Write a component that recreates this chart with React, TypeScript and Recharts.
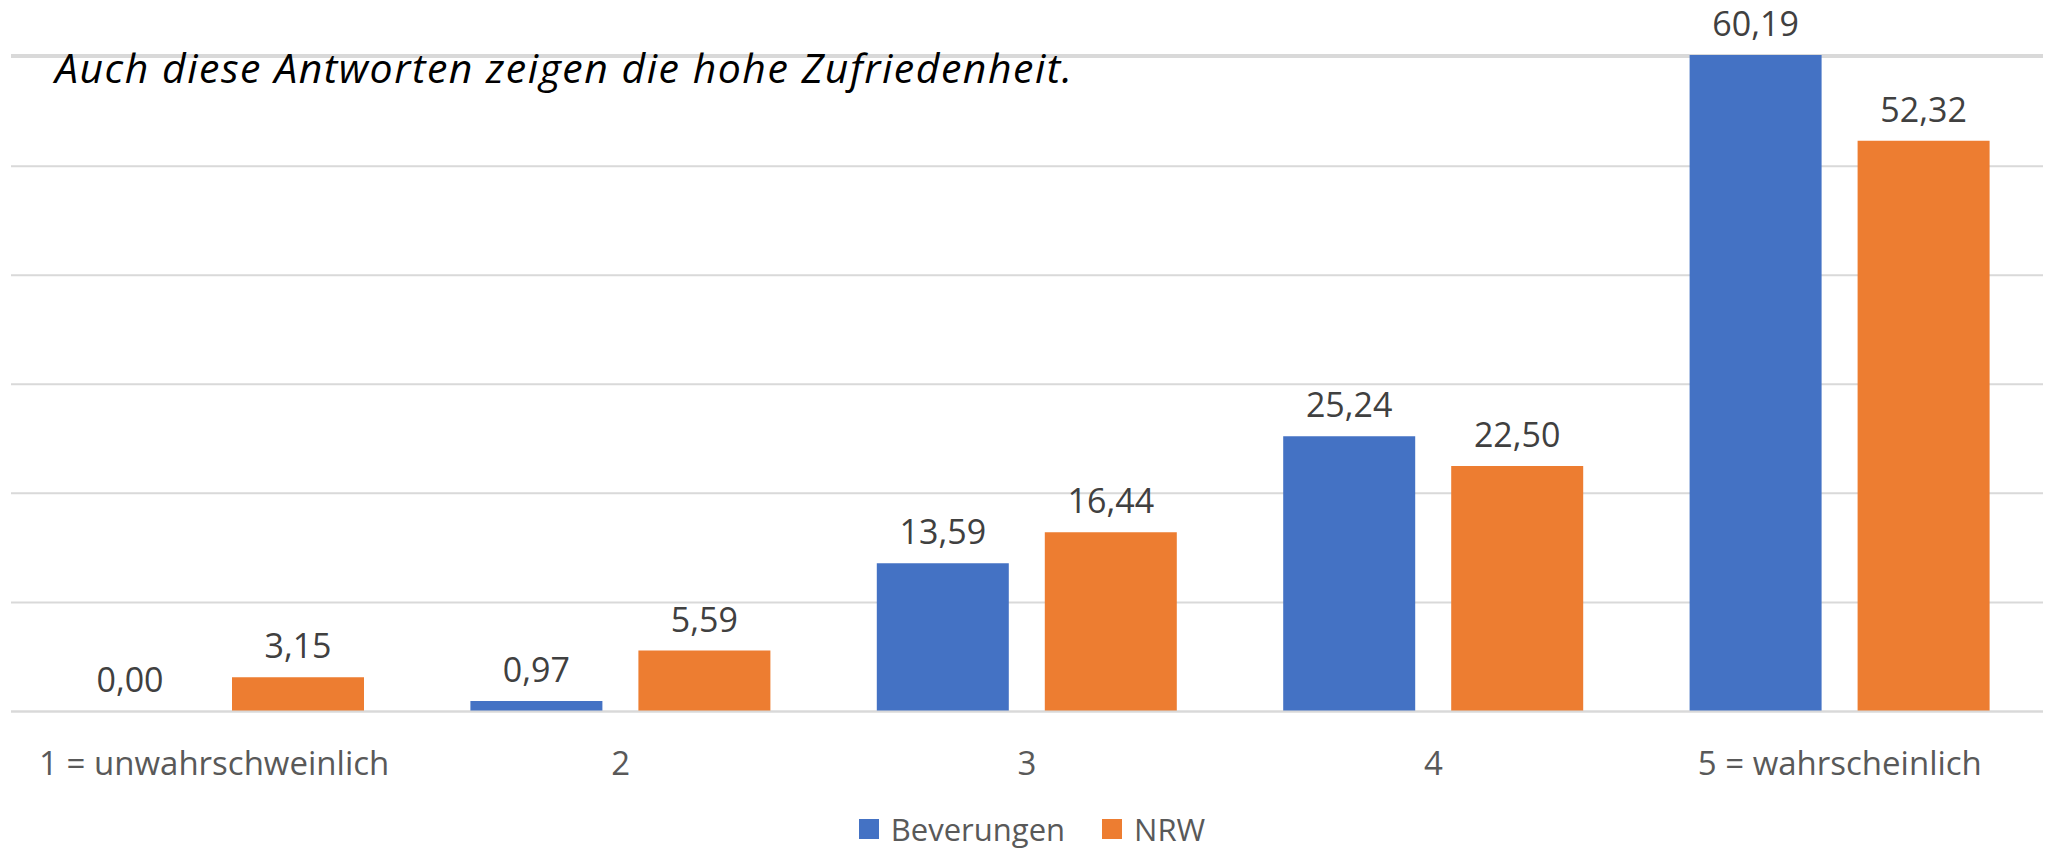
import { BarChart, Bar, XAxis, YAxis, CartesianGrid, Legend, LabelList } from 'recharts';

const categories = ['1 = unwahrschweinlich', '2', '3', '4', '5 = wahrscheinlich'];
const beverungen = [0.0, 0.97, 13.59, 25.24, 60.19];
const nrw = [3.15, 5.59, 16.44, 22.5, 52.32];
const yTicks = [0, 10, 20, 30, 40, 50, 60];

const data = categories.map((name, i) => ({ name, Beverungen: beverungen[i], NRW: nrw[i] }));

const FONT = '"Open Sans", sans-serif';
const BLUE = '#4472C4';
const ORANGE = '#ED7D31';

const fmt = (v: any) => Number(v).toFixed(2).replace('.', ',');

const LegendContent = () => (
  <div
    style={{
      height: 40,
      display: 'flex',
      justifyContent: 'center',
      alignItems: 'center',
      fontFamily: FONT,
      fontSize: 31,
      color: '#595959',
      paddingLeft: 10,
    }}
  >
    {[
      { label: 'Beverungen', color: BLUE },
      { label: 'NRW', color: ORANGE },
    ].map((item, i) => (
      <div key={item.label} style={{ display: 'flex', alignItems: 'center', marginLeft: i ? 37 : 0 }}>
        <span style={{ width: 20, height: 20, background: item.color, marginRight: 12 }} />
        <span style={{ lineHeight: '40px' }}>{item.label}</span>
      </div>
    ))}
  </div>
);

const App = () => {
  return (
    <div style={{ position: 'absolute', left: 0, top: 0, width: 2047, height: 849, background: '#fff' }}>
      <BarChart
        width={2047}
        height={849}
        data={data}
        margin={{ top: 55, right: 4, left: 11, bottom: 0 }}
        barSize={132}
        barGap={36}
      >
        <CartesianGrid vertical={false} stroke="#d9d9d9" strokeWidth={2} />
        <XAxis
          dataKey="name"
          height={97.5}
          interval={0}
          tickLine={false}
          tickSize={0}
          tickMargin={40}
          axisLine={{ stroke: '#d9d9d9', strokeWidth: 2 }}
          tick={{ fill: '#595959', fontSize: 33, fontFamily: FONT }}
        />
        <YAxis hide domain={[0, 'dataMax']} ticks={yTicks} type="number" />
        <Legend verticalAlign="bottom" height={40} content={<LegendContent />} />
        <Bar dataKey="Beverungen" fill={BLUE} minPointSize={0.01} isAnimationActive={false}>
          <LabelList
            dataKey="Beverungen"
            position="top"
            offset={19}
            formatter={fmt}
            style={{ fill: '#404040', fontSize: 34, fontFamily: FONT }}
          />
        </Bar>
        <Bar dataKey="NRW" fill={ORANGE} isAnimationActive={false}>
          <LabelList
            dataKey="NRW"
            position="top"
            offset={19}
            formatter={fmt}
            style={{ fill: '#404040', fontSize: 34, fontFamily: FONT }}
          />
        </Bar>
      </BarChart>
      <svg
        width={2047}
        height={120}
        style={{ position: 'absolute', left: 0, top: 0, pointerEvents: 'none' }}
      >
        <text
          x={55}
          y={83}
          fontFamily={FONT}
          fontStyle="italic"
          fontSize={41}
          letterSpacing={1.5}
          fill="#000"
        >
          Auch diese Antworten zeigen die hohe Zufriedenheit.
        </text>
      </svg>
    </div>
  );
};

export default App;
